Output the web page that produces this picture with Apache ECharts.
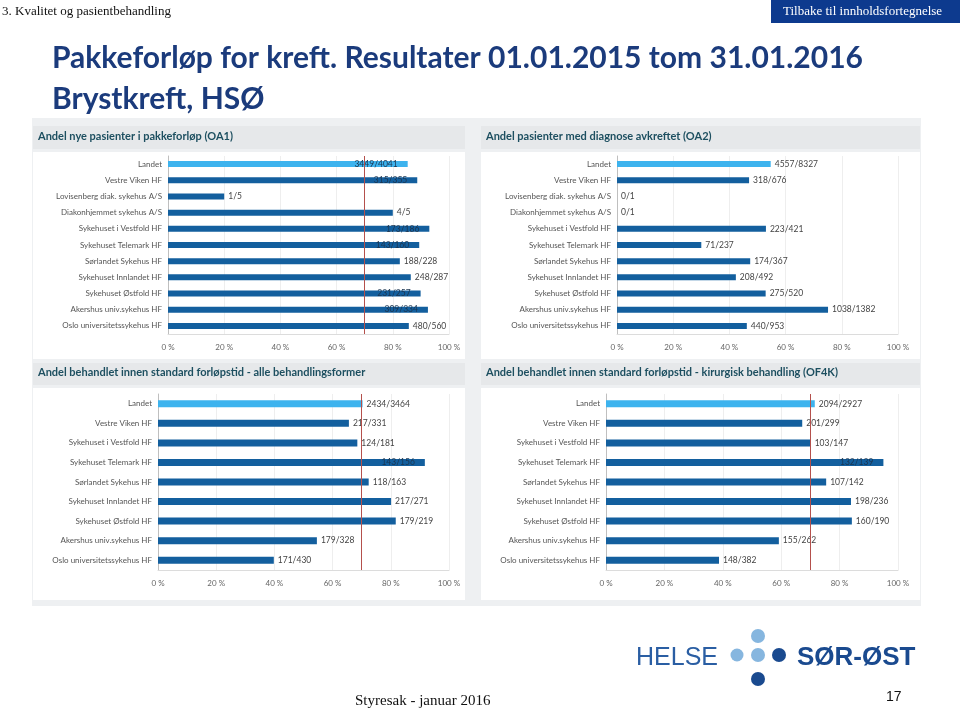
<!DOCTYPE html>
<html>
<head>
<meta charset="utf-8">
<script src="https://cdn.jsdelivr.net/npm/echarts@6/dist/echarts.min.js"></script>
<style>
html,body{margin:0;padding:0;background:#fff;}
#main{width:960px;height:712px;}
</style>
</head>
<body>
<div id="main"></div>
<script>
// ---------- data ----------
const catsA = ['Landet','Vestre Viken HF','Lovisenberg diak. sykehus A/S','Diakonhjemmet sykehus A/S','Sykehuset i Vestfold HF','Sykehuset Telemark HF','Sørlandet Sykehus HF','Sykehuset Innlandet HF','Sykehuset Østfold HF','Akershus univ.sykehus HF','Oslo universitetssykehus HF'];
const catsB = ['Landet','Vestre Viken HF','Sykehuset i Vestfold HF','Sykehuset Telemark HF','Sørlandet Sykehus HF','Sykehuset Innlandet HF','Sykehuset Østfold HF','Akershus univ.sykehus HF','Oslo universitetssykehus HF'];

const oa1Values = [85.3, 88.7, 20.0, 80.0, 93.0, 89.4, 82.5, 86.4, 89.9, 92.5, 85.7];
const oa1Labels = ['3449/4041','315/355','1/5','4/5','173/186','143/160','188/228','248/287','231/257','309/334','480/560'];

const oa2Values = [54.7, 47.0, 0, 0, 53.0, 30.0, 47.4, 42.3, 52.9, 75.1, 46.2];
const oa2Labels = ['4557/8327','318/676','0/1','0/1','223/421','71/237','174/367','208/492','275/520','1038/1382','440/953'];

const allValues = [70.3, 65.6, 68.5, 91.7, 72.4, 80.1, 81.7, 54.6, 39.8];
const allLabels = ['2434/3464','217/331','124/181','143/156','118/163','217/271','179/219','179/328','171/430'];

const kirValues = [71.5, 67.2, 70.1, 95.0, 75.4, 83.9, 84.2, 59.2, 38.7];
const kirLabels = ['2094/2927','201/299','103/147','132/139','107/142','198/236','160/190','155/262','148/382'];

const panelTitles = ['Andel nye pasienter i pakkeforløp (OA1)','Andel pasienter med diagnose avkreftet (OA2)','Andel behandlet innen standard forløpstid - alle behandlingsformer','Andel behandlet innen standard forløpstid - kirurgisk behandling (OF4K)'];
const xMin = 0, xMax = 100, xStep = 20;
const target = 70;

// ---------- styling / layout ----------
const FONT = 'Lato, "Open Sans", sans-serif';
const DARK = '#135f9e', LIGHT = '#3db3ee';
const grids = [
  {left:168, right:511, top:156, height:178},
  {left:617, right:62,  top:156, height:178},
  {left:158, right:511, top:394, height:176},
  {left:606, right:62,  top:394, height:176}
];
// which bars carry their label inside the bar end (as in the source picture)
const insideIdx = [[0,1,4,5,8,9],[],[3],[3]];
const barW = [6,6,7,7];
const showTarget = [true,false,true,true];

const panels = [
  {cats:catsA, vals:oa1Values, labs:oa1Labels},
  {cats:catsA, vals:oa2Values, labs:oa2Labels},
  {cats:catsB, vals:allValues, labs:allLabels},
  {cats:catsB, vals:kirValues, labs:kirLabels}
];

const option = {
  animation:false,
  backgroundColor:'#ffffff',
  grid: grids.map(g=>Object.assign({containLabel:false},g)),
  xAxis: grids.map((g,i)=>({
    type:'value', gridIndex:i, min:xMin, max:xMax, interval:xStep,
    axisLabel:{formatter:'{value} %', fontFamily:FONT, fontSize:8, color:'#666', margin:9},
    axisLine:{show:true, lineStyle:{color:'#dcdcdc'}},
    axisTick:{show:false},
    splitLine:{show:true, lineStyle:{color:'#eeeeee'}}
  })),
  yAxis: panels.map((p,i)=>({
    type:'category', gridIndex:i, inverse:true, data:p.cats,
    axisLabel:{fontFamily:FONT, fontSize:8, color:'#555', margin:6},
    axisLine:{show:true, lineStyle:{color:'#bfbfbf'}},
    axisTick:{show:false}
  })),
  series: panels.map((p,i)=>{
    const s = {
      type:'bar', xAxisIndex:i, yAxisIndex:i, barWidth:barW[i],
      data:p.vals.map((v,k)=>{
        const inside = insideIdx[i].includes(k);
        return {
          value:v,
          itemStyle:{color: k===0 ? LIGHT : DARK},
          label:{show:true, position: inside ? 'insideRight' : 'right',
                 offset: inside ? [-6,0] : [0,0], distance:4,
                 formatter:()=>p.labs[k], fontFamily:FONT, fontSize:8.5,
                 color: inside ? '#1b3550' : '#444'}
        };
      })
    };
    if (showTarget[i]) {
      s.markLine = {silent:true, symbol:'none', label:{show:false},
        lineStyle:{color:'#b4504c', width:1, type:'solid'},
        data:[{xAxis:target}]};
    }
    return s;
  }),
  graphic: [
    // slide header
    {type:'text', left:2, top:5, style:{text:'3. Kvalitet og pasientbehandling', font:'13px "Liberation Serif", serif', fill:'#111'}},
    {type:'rect', left:771, top:0, shape:{width:189, height:23}, style:{fill:'#0d3a8e'}},
    {type:'text', left:783, top:5, style:{text:'Tilbake til innholdsfortegnelse', font:'13px "Liberation Serif", serif', fill:'#ffffff'}},
    {type:'text', left:52, top:43, style:{text:'Pakkeforløp for kreft. Resultater 01.01.2015 tom 31.01.2016', font:'bold 30px Lato, sans-serif', fill:'#1b3b7c'}},
    {type:'text', left:52, top:84, style:{text:'Brystkreft, HSØ', font:'bold 30px Lato, sans-serif', fill:'#1b3b7c'}},
    // panel backgrounds
    {type:'rect', left:32, top:118, z:-10, shape:{width:889, height:488}, style:{fill:'#eef0f2'}},
    {type:'rect', left:33, top:126, z:-9, shape:{width:432, height:23}, style:{fill:'#e6e8ea'}},
    {type:'rect', left:481, top:126, z:-9, shape:{width:439, height:23}, style:{fill:'#e6e8ea'}},
    {type:'rect', left:33, top:152, z:-9, shape:{width:432, height:207}, style:{fill:'#ffffff'}},
    {type:'rect', left:481, top:152, z:-9, shape:{width:439, height:207}, style:{fill:'#ffffff'}},
    {type:'rect', left:33, top:363, z:-9, shape:{width:432, height:22}, style:{fill:'#e6e8ea'}},
    {type:'rect', left:481, top:363, z:-9, shape:{width:439, height:22}, style:{fill:'#e6e8ea'}},
    {type:'rect', left:33, top:388, z:-9, shape:{width:432, height:212}, style:{fill:'#ffffff'}},
    {type:'rect', left:481, top:388, z:-9, shape:{width:439, height:212}, style:{fill:'#ffffff'}},
    {type:'text', left:38, top:131, style:{text:panelTitles[0], font:'bold 11px Lato, sans-serif', fill:'#1d4f60'}},
    {type:'text', left:486, top:131, style:{text:panelTitles[1], font:'bold 11px Lato, sans-serif', fill:'#1d4f60'}},
    {type:'text', left:38, top:367, style:{text:panelTitles[2], font:'bold 11px Lato, sans-serif', fill:'#1d4f60'}},
    {type:'text', left:486, top:367, style:{text:panelTitles[3], font:'bold 11px Lato, sans-serif', fill:'#1d4f60'}},
    // footer
    {type:'text', left:355, top:694, style:{text:'Styresak - januar 2016', font:'15px "Liberation Serif", serif', fill:'#111'}},
    {type:'text', left:886, top:690, style:{text:'17', font:'14px "Liberation Sans", Arial, sans-serif', fill:'#111'}},
    {type:'text', left:636, top:646, style:{text:'HELSE', font:'25px "Liberation Sans", Arial, sans-serif', fill:'#2a5ea3'}},
    {type:'text', left:797, top:645, style:{text:'SØR-ØST', font:'bold 26px "Liberation Sans", Arial, sans-serif', fill:'#1a4a8f'}},
    {type:'circle', shape:{cx:758, cy:636, r:7}, style:{fill:'#86b6df'}},
    {type:'circle', shape:{cx:737, cy:655, r:6.5}, style:{fill:'#86b6df'}},
    {type:'circle', shape:{cx:758, cy:655, r:7}, style:{fill:'#86b6df'}},
    {type:'circle', shape:{cx:779, cy:655, r:7}, style:{fill:'#1a4a8f'}},
    {type:'circle', shape:{cx:758, cy:679, r:7}, style:{fill:'#1a4a8f'}}
  ]
};
const chart = echarts.init(document.getElementById('main'), null, {renderer:'canvas'});
chart.setOption(option);
</script>
</body>
</html>
